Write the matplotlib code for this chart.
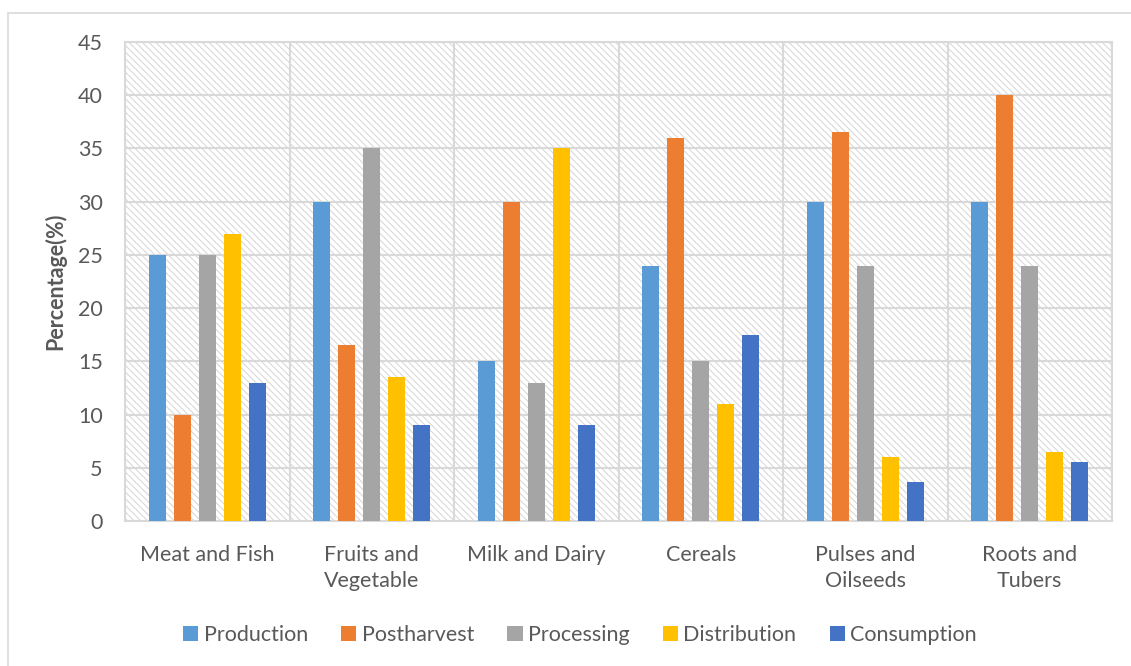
import matplotlib
matplotlib.use("Agg")
import matplotlib.pyplot as plt
from matplotlib.patches import Rectangle
import numpy as np

categories = ["Meat and Fish", "Fruits and\nVegetable", "Milk and Dairy",
              "Cereals", "Pulses and\nOilseeds", "Roots and\nTubers"]
series_names = ["Production", "Postharvest", "Processing", "Distribution", "Consumption"]
production = [25, 30, 15, 24, 30, 30]
postharvest = [10, 16.5, 30, 36, 36.5, 40]
processing = [25, 35, 13, 15, 24, 24]
distribution = [27, 13.5, 35, 11, 6, 6.5]
consumption = [13, 9, 9, 17.5, 3.7, 5.5]
y_ticks = [0, 5, 10, 15, 20, 25, 30, 35, 40, 45]

colors = ["#5B9BD5", "#ED7D31", "#A5A5A5", "#FFC000", "#4472C4"]
text_color = "#595959"
grid_color = "#D9D9D9"

plt.rcParams["font.family"] = ["Lato", "DejaVu Sans"]
plt.rcParams["hatch.linewidth"] = 0.8
plt.rcParams["hatch.color"] = "#D9D9D9"

FS = 15.5

W, H = 1131, 666
fig = plt.figure(figsize=(W / 100, H / 100), dpi=100)
ax = fig.add_axes([125 / W, 1 - 521 / H, (1112 - 125) / W, (521 - 42) / H])

# chart frame
fig.patches.append(Rectangle((8 / W, -0.1), 1.2, 1 - 13 / H + 0.1, transform=fig.transFigure,
                             fill=False, edgecolor="#D9D9D9", lw=1.2, zorder=0))

n = len(categories)
x = np.arange(n)
ax.set_xlim(-0.5, n - 0.5)
ax.set_ylim(0, 45)

# hatched plot background
ax.add_patch(Rectangle((0, 0), 1, 1, transform=ax.transAxes, facecolor="white",
                       edgecolor="#D9D9D9", hatch="\\\\\\\\\\", lw=0, zorder=0))

for yv in y_ticks[1:]:
    ax.axhline(yv, color=grid_color, lw=1.5, zorder=1)
for xb in np.arange(-0.5, n, 1.0):
    ax.axvline(xb, color=grid_color, lw=1.5, zorder=1)

data = [production, postharvest, processing, distribution, consumption]
step = 0.152
width = 0.106
for i, (name, vals, c) in enumerate(zip(series_names, data, colors)):
    ax.bar(x + (i - 2) * step, vals, width=width, color=c, label=name, zorder=3)

for s in ax.spines.values():
    s.set_color(grid_color)
    s.set_linewidth(1.5)

ax.set_yticks(y_ticks)
ax.set_xticks(x)
ax.set_xticklabels(categories)
ax.tick_params(axis="both", length=0, labelsize=FS, colors=text_color)
ax.tick_params(axis="y", pad=16)
ax.tick_params(axis="x", pad=17)
for lbl in ax.get_xticklabels():
    lbl.set_linespacing(1.4)

ax.set_ylabel("Percentage(%)", fontsize=FS, fontweight="bold", color=text_color, labelpad=8)

leg = fig.legend(loc="center", bbox_to_anchor=(580 / W, 1 - 635 / H), ncol=5, frameon=False,
                 fontsize=FS, handlelength=0.7, handleheight=0.7, handletextpad=0.25,
                 columnspacing=1.55, labelcolor=text_color)

fig.savefig("out.png", dpi=100)
